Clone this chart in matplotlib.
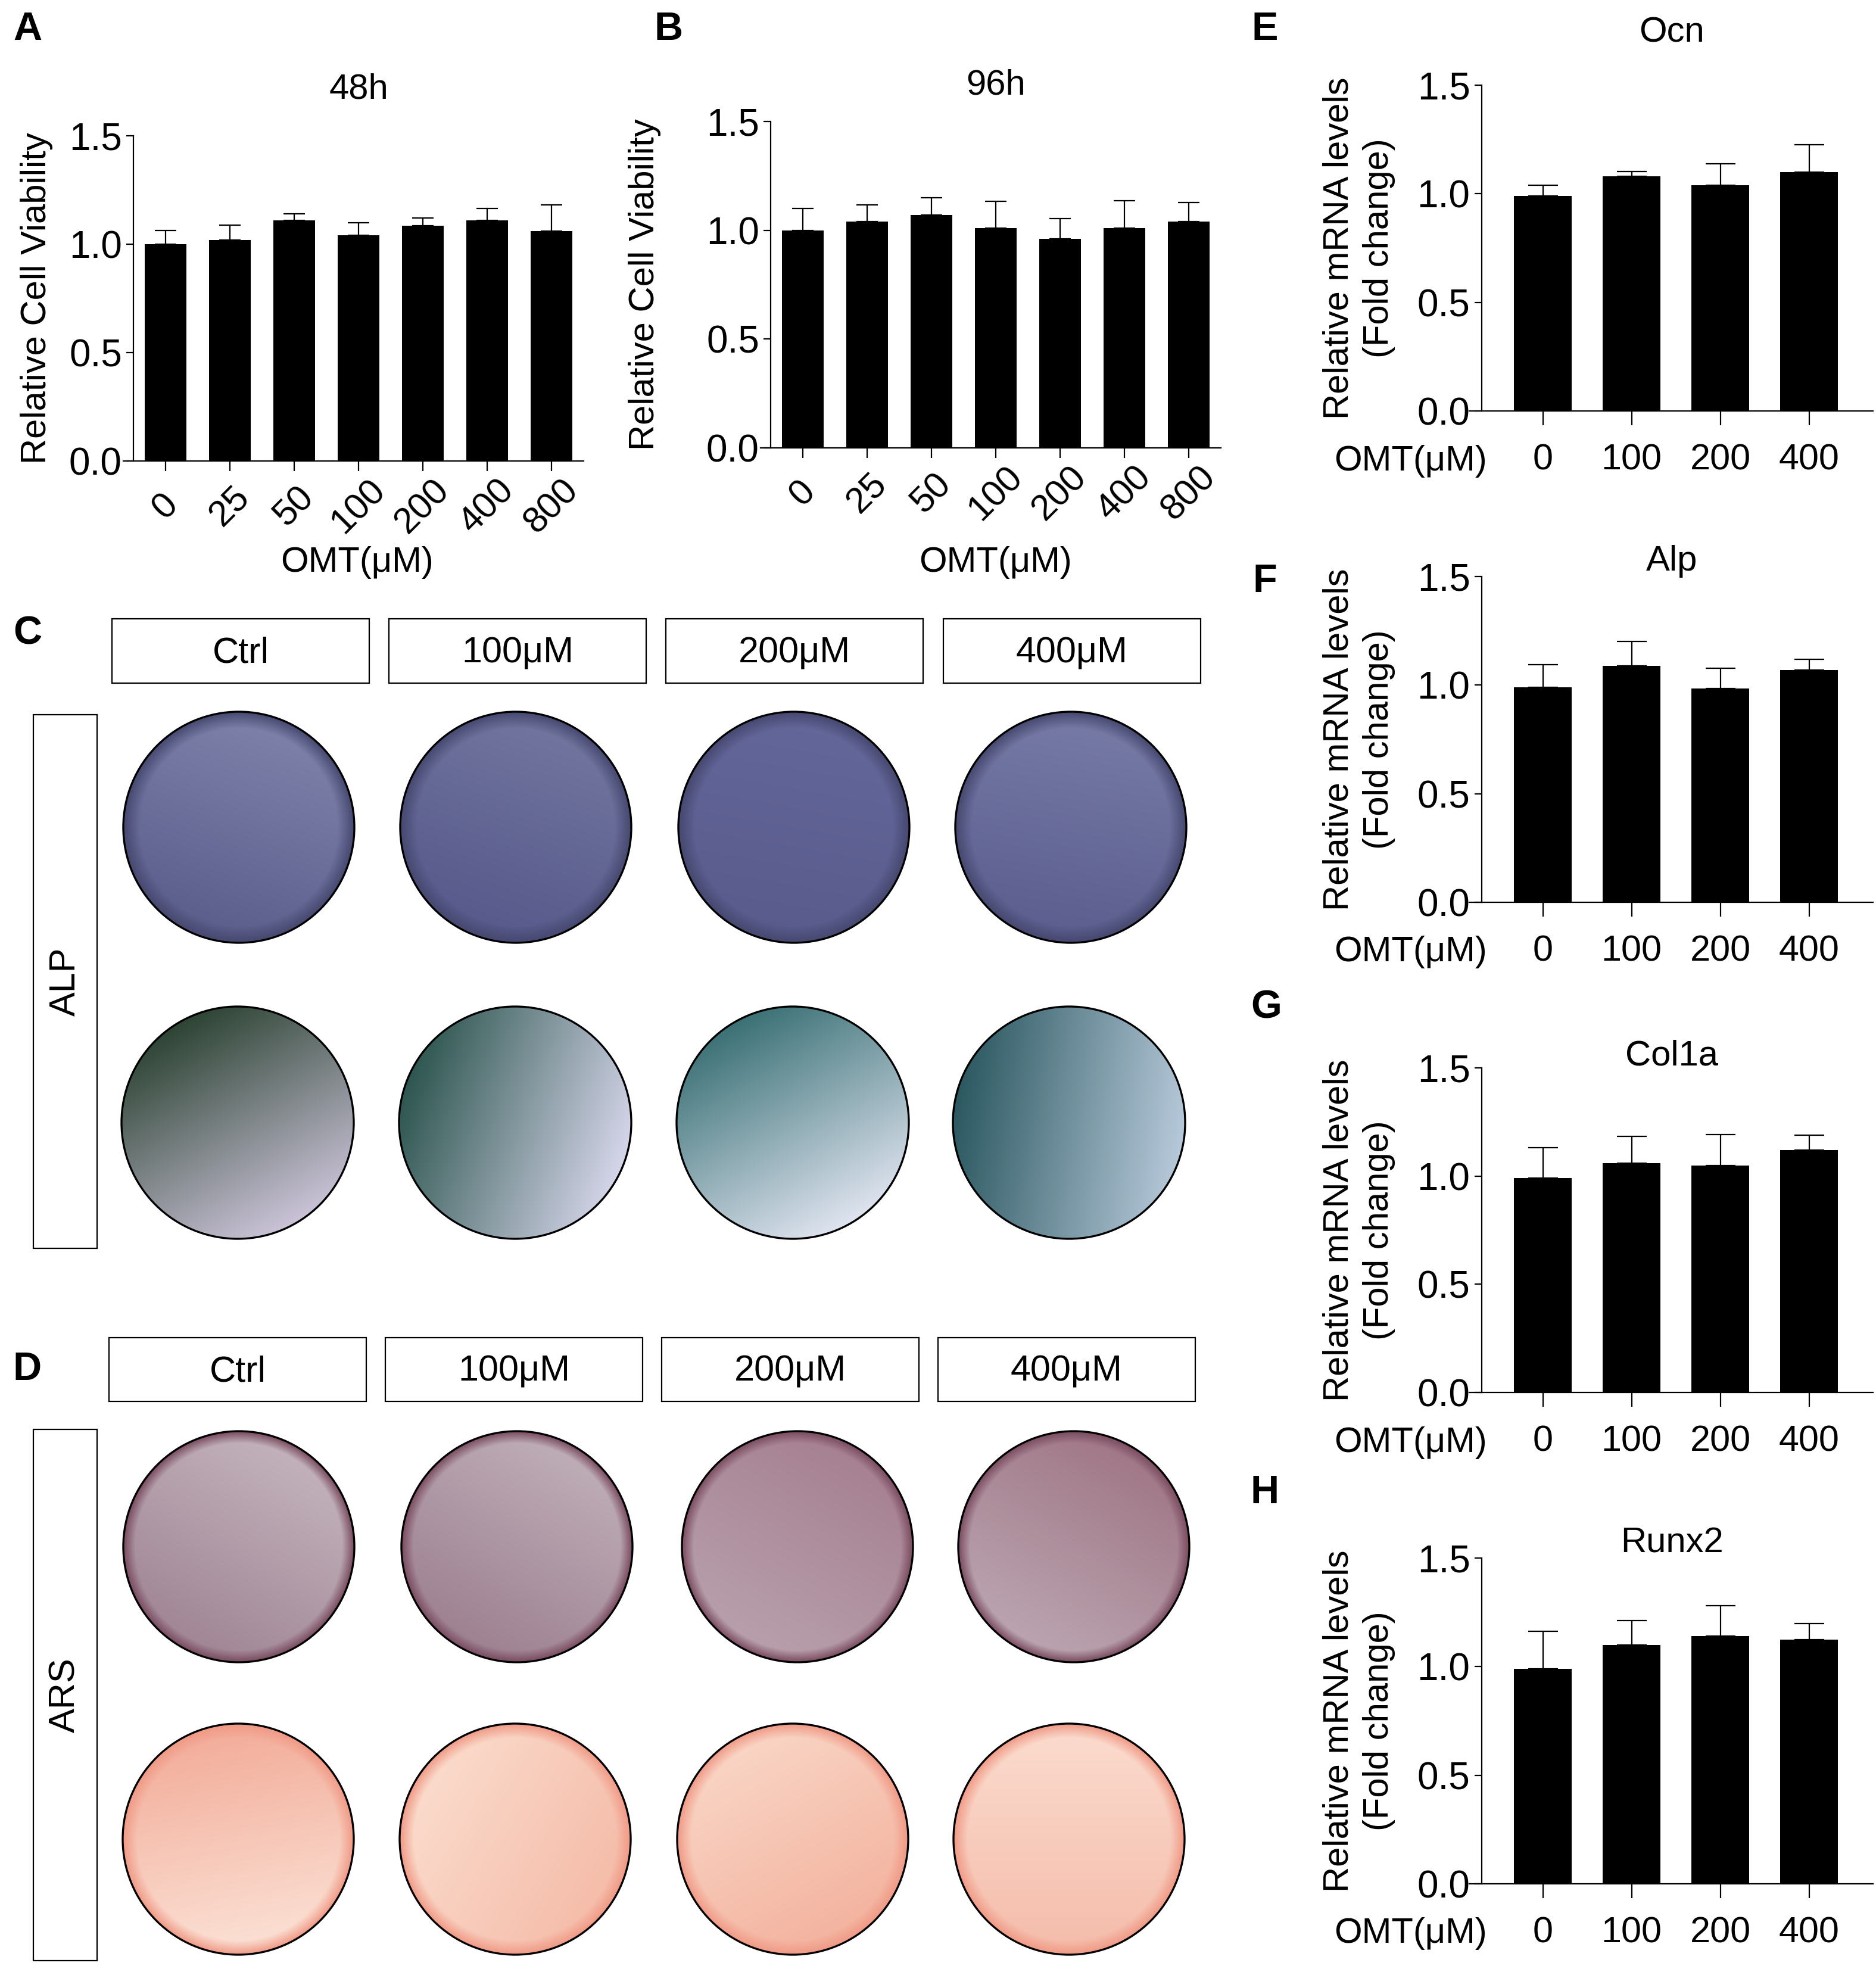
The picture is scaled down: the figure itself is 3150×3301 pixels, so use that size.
import numpy as np
import matplotlib.pyplot as plt
from matplotlib.patches import Circle, Rectangle
from matplotlib.colors import to_rgb

W, H = 3150, 3301
plt.rcParams['font.family'] = ['Liberation Sans', 'DejaVu Sans']

# ---- data ----
viab_conc = ['0', '25', '50', '100', '200', '400', '800']
viab_48h = [1.00, 1.02, 1.11, 1.04, 1.085, 1.11, 1.06]
viab_48h_sd = [0.064, 0.068, 0.030, 0.058, 0.036, 0.056, 0.12]
viab_96h = [1.00, 1.04, 1.07, 1.01, 0.96, 1.01, 1.04]
viab_96h_sd = [0.10, 0.077, 0.079, 0.124, 0.095, 0.125, 0.089]

gene_conc = ['0', '100', '200', '400']
ocn = [0.99, 1.08, 1.04, 1.10]
ocn_sd = [0.048, 0.023, 0.097, 0.126]
alp = [0.99, 1.09, 0.985, 1.07]
alp_sd = [0.105, 0.11, 0.093, 0.049]
col1a = [0.99, 1.06, 1.05, 1.12]
col1a_sd = [0.141, 0.123, 0.141, 0.068]
runx2 = [0.99, 1.10, 1.14, 1.125]
runx2_sd = [0.173, 0.112, 0.141, 0.072]

well_groups = ['Ctrl', '100μM', '200μM', '400μM']

fig = plt.figure(figsize=(W / 100, H / 100), dpi=100)


def px_axes(x0, y0, x1, y1):
    return fig.add_axes([x0 / W, 1 - y1 / H, (x1 - x0) / W, (y1 - y0) / H])


def ftext(x, y, s, **kw):
    fig.text(x / W, 1 - y / H, s, **kw)


def bar_panel(box, labels, vals, sd, spine_at, xl, cap, rot=0, xlen=12, xpad=40):
    ax = px_axes(*box)
    x = np.arange(len(vals))
    ax.bar(x, vals, width=0.65, color='black', zorder=2)
    ax.errorbar(x, vals, yerr=[np.zeros(len(vals)), sd], fmt='none',
                ecolor='black', elinewidth=1.6, capsize=cap, capthick=1.6,
                zorder=1)
    ax.set_xlim(*xl)
    ax.set_ylim(0, 1.5)
    ax.set_yticks([0, 0.5, 1.0, 1.5])
    ax.set_yticklabels(['0.0', '0.5', '1.0', '1.5'])
    ax.set_xticks(x)
    ax.set_xticklabels(labels, rotation=rot, va='center',
                       rotation_mode='anchor')
    for s in ['top', 'right']:
        ax.spines[s].set_visible(False)
    ax.spines['left'].set_position(('data', spine_at))
    ax.spines['left'].set_linewidth(1.6)
    ax.spines['bottom'].set_linewidth(1.6)
    ax.tick_params(axis='y', length=9, width=1.6, labelsize=46, pad=5)
    ax.tick_params(axis='x', length=xlen, width=1.6, labelsize=44, pad=xpad)
    ax.patch.set_alpha(0)
    return ax


# ---- A / B: cell viability ----
bar_panel((207, 228, 980, 774), viab_conc, viab_48h, viab_48h_sd,
          -0.5, (-0.66, 6.5), 13, rot=45, xpad=43)
bar_panel((1277, 204, 2050, 752), viab_conc, viab_96h, viab_96h_sd,
          -0.5, (-0.66, 6.5), 13, rot=45, xpad=43)
ftext(603, 150, '48h', fontsize=43, ha='center', va='center')
ftext(1672, 143, '96h', fontsize=43, ha='center', va='center')
ftext(62, 501, 'Relative Cell Viability', fontsize=43, rotation=90,
      ha='center', va='center')
ftext(1082, 478, 'Relative Cell Viability', fontsize=43, rotation=90,
      ha='center', va='center')
ftext(600, 945, 'OMT(μM)', fontsize=43, ha='center', va='center')
ftext(1672, 945, 'OMT(μM)', fontsize=43, ha='center', va='center')

# ---- E-H: qPCR ----
genes = [('Ocn', ocn, ocn_sd, 143, 690, 55),
         ('Alp', alp, alp_sd, 968, 1515, 943),
         ('Col1a', col1a, col1a_sd, 1793, 2338, 1773),
         ('Runx2', runx2, runx2_sd, 2616, 3163, 2591)]
for name, vals, sd, top, bot, ty in genes:
    bar_panel((2467, top, 3145, bot), gene_conc, vals, sd,
              -0.69, (-0.83, 3.72), 18, xlen=17, xpad=43)
    ftext(2807, ty, name, fontsize=43, ha='center', va='center')
    ftext(2282, (top + bot) / 2, 'Relative mRNA levels\n(Fold change)',
          fontsize=43, rotation=90, ha='center', va='center',
          linespacing=1.3)
    ftext(2497, bot + 84, 'OMT(μM)', fontsize=43, ha='right', va='center')

# ---- C / D: staining photos (drawn as shaded wells) ----
pax = fig.add_axes([0, 0, 1, 1], zorder=-1)
pax.set_xlim(0, W)
pax.set_ylim(H, 0)
pax.axis('off')


def well(cx, cy, r, c_a, c_b, angle, c_rim=None, rim_w=0.25):
    n = 240
    yy, xx = np.mgrid[-1:1:n * 1j, -1:1:n * 1j]
    rr = np.clip(np.hypot(xx, yy), 0, 1)
    a = np.deg2rad(angle)
    s = np.clip((xx * np.cos(a) + yy * np.sin(a) + 1) / 2, 0, 1)[..., None]
    img = np.array(to_rgb(c_a)) * (1 - s) + np.array(to_rgb(c_b)) * s
    if c_rim is not None:
        w = np.clip((rr - (1 - rim_w)) / rim_w, 0, 1)[..., None]
        img = img * (1 - w) + np.array(to_rgb(c_rim)) * w
    im = pax.imshow(img, extent=(cx - r, cx + r, cy + r, cy - r),
                    origin='upper', aspect='auto', interpolation='bilinear')
    circ = Circle((cx, cy), r, facecolor='none', edgecolor='black', lw=2.4)
    pax.add_patch(circ)
    im.set_clip_path(circ)


def header_row(y0, y1, xs):
    for x0, g in zip(xs, well_groups):
        pax.add_patch(Rectangle((x0, y0), 432, y1 - y0, facecolor='white',
                                edgecolor='black', lw=1.6))
        pax.text(x0 + 216, (y0 + y1) / 2 + 4, g, fontsize=44,
                 ha='center', va='center')


def side_box(y0, y1, label):
    pax.add_patch(Rectangle((56, y0), 107, y1 - y0, facecolor='white',
                            edgecolor='black', lw=1.6))
    pax.text(110, (y0 + y1) / 2, label, fontsize=44, rotation=90,
             ha='center', va='center')


header_row(1039, 1147, [188, 653, 1118, 1584])
side_box(1200, 2096, 'ALP')
header_row(2246, 2353, [183, 647, 1111, 1575])
side_box(2400, 3292, 'ARS')

# ALP macroscopic wells
alp_top = [('#7f83ab', '#5a5d8b', 110), ('#72769f', '#56598a', 110),
           ('#64679a', '#585b8b', 100), ('#777ba6', '#5b5e8e', 100)]
for cx, (ca, cb, ang) in zip([401, 866, 1333, 1798], alp_top):
    well(cx, 1389, 194, ca, cb, ang, c_rim='#46486f', rim_w=0.14)

# ALP microscopic wells
alp_bot = [('#2d4434', '#cbc3d8', 60), ('#2e5650', '#d6d6ea', 20),
           ('#3b7176', '#dfe4f0', 60), ('#2b5860', '#b7c9da', 10)]
for cx, (ca, cb, ang) in zip([399, 865, 1331, 1795], alp_bot):
    well(cx, 1885, 195, ca, cb, ang)

# ARS macroscopic wells
ars_top = [('#c3b3bc', '#a08595', 120), ('#bfaeb8', '#9d8090', 120),
           ('#a68090', '#b8a0ac', 120), ('#a07686', '#bba6b1', 120)]
for cx, (ca, cb, ang) in zip([401, 868, 1339, 1803], ars_top):
    well(cx, 2597, 194, ca, cb, ang, c_rim='#7a4c60', rim_w=0.1)

# ARS microscopic wells
ars_bot = [('#f3ab98', '#fbe2d6', 80), ('#fbdccd', '#f5bba8', 30),
           ('#fad6c6', '#f3b29e', 60), ('#fbdccf', '#f5bcaa', 90)]
for cx, (ca, cb, ang) in zip([400, 865, 1331, 1795], ars_bot):
    well(cx, 3088, 194, ca, cb, ang, c_rim='#f09a86', rim_w=0.12)

# ---- panel letters ----
for letter, x, y in [('A', 46, 50), ('B', 1123, 50), ('C', 46, 1065),
                     ('D', 46, 2300), ('E', 2124, 50), ('F', 2124, 977),
                     ('G', 2126, 1693), ('H', 2124, 2507)]:
    ftext(x, y, letter, fontsize=48, fontweight='bold',
          ha='center', va='center')

fig.savefig('out.png', dpi=100)
